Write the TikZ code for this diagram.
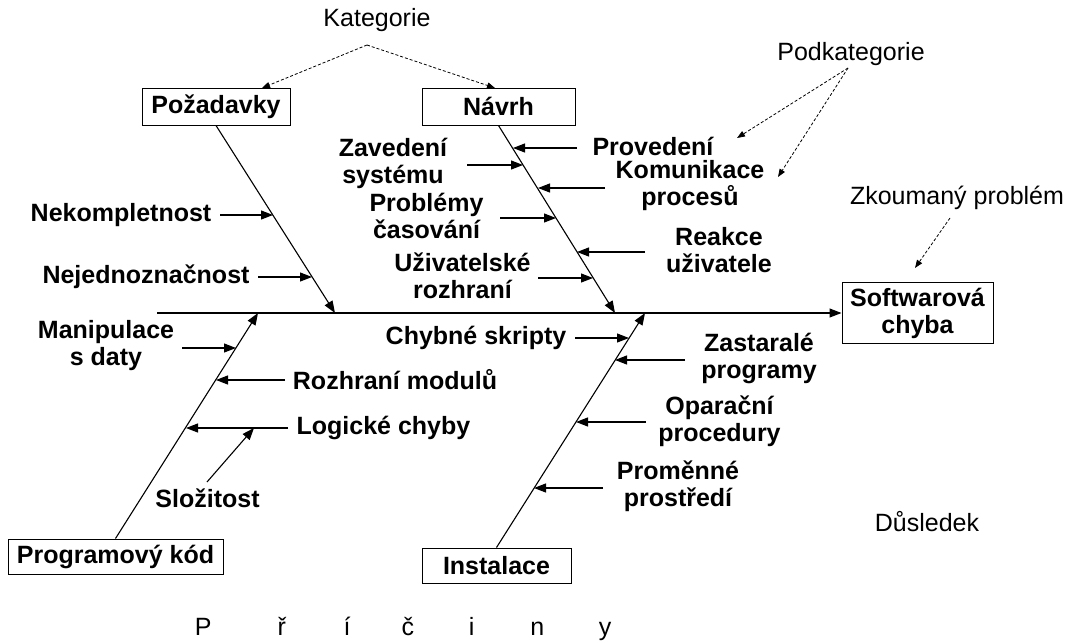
\documentclass[tikz,border=0pt]{standalone}
\usepackage{fontspec}
\setmainfont{Liberation Sans}
\usetikzlibrary{arrows.meta}
\newcommand{\labelsize}{\fontsize{25}{27}\selectfont}
\begin{document}
\begin{tikzpicture}[x=1pt,y=-1pt,
  cause/.style={font=\labelsize\bfseries, align=center, inner sep=0pt},
  note/.style={font=\labelsize, inner sep=0pt},
  catbox/.style={draw, line width=1pt, font=\labelsize\bfseries, align=center, inner sep=0pt},
  arr/.style={line width=1.1pt, -{Triangle[length=12pt,width=9pt]}},
  bone/.style={line width=1.1pt, -{Triangle[length=12pt,width=9pt]}},
  darr/.style={line width=0.8pt, dash pattern=on 3pt off 2pt, -{Triangle[length=8pt,width=6pt]}}]
\useasboundingbox (0,0) rectangle (1067,642);

% category boxes and the effect box
\node[catbox, minimum width=148pt, minimum height=37pt] (poz) at (216,106.5) {Požadavky};
\node[catbox, minimum width=153pt, minimum height=37pt] (nav) at (498.5,106.5) {Návrh};
\node[catbox, minimum width=215pt, minimum height=35pt] (kod) at (115.5,556.5) {Programový kód};
\node[catbox, minimum width=149pt, minimum height=35pt] (ins) at (496.5,565.5) {Instalace};
\node[catbox, minimum width=151pt, minimum height=61pt] (sw) at (917.5,313) {Softwarová\\chyba};

% spine
\coordinate (spine) at (157,313);
\draw[arr] (spine) -- (sw.west);

% main bones
\coordinate (pozT) at (335,313);
\coordinate (navT) at (615,313);
\coordinate (kodT) at (258,313);
\coordinate (insT) at (645,313);
\draw[bone] (poz.south) -- (pozT);
\draw[bone] (nav.south) -- (navT);
\draw[bone] (kod.north) -- (kodT);
\draw[bone] (ins.north) -- (insT);

% cause labels
\node[cause] (nek) at (121,215) {Nekompletnost};
\node[cause] (nej) at (146,277) {Nejednoznačnost};
\node[cause] (zav) at (393,163) {Zavedení\\systému};
\node[cause] (prob) at (426.5,216) {Problémy\\časování};
\node[cause] (uziv) at (462.5,276) {Uživatelské\\rozhraní};
\node[cause] (prov) at (653,146) {Provedení};
\node[cause] (kom) at (690,186) {Komunikace\\procesů};
\node[cause] (reak) at (719,250) {Reakce\\uživatele};
\node[cause] (manip) at (106,346) {Manipulace\\s daty};
\node[cause] (rozh) at (395,380) {Rozhraní modulů};
\node[cause] (log) at (383.5,428) {Logické chyby};
\node[cause] (slo) at (207.5,498) {Složitost};
\node[cause] (chyb) at (476,338) {Chybné skripty};
\node[cause] (zast) at (759,358) {Zastaralé\\programy};
\node[cause] (opar) at (719.5,421) {Oparační\\procedury};
\node[cause] (prom) at (678,486) {Proměnné\\prostředí};

% arrow tails beside the labels
\coordinate (nekS) at (220,215);
\coordinate (nejS) at (258,277);
\coordinate (zavS) at (467,165);
\coordinate (probS) at (500,218);
\coordinate (uzivS) at (538,278);
\coordinate (provS) at (577,148);
\coordinate (komS) at (605,188);
\coordinate (reakS) at (645,252);
\coordinate (manipS) at (182,348);
\coordinate (rozhS) at (285,380);
\coordinate (logS) at (288,428);
\coordinate (sloS) at (207,482);
\coordinate (chybS) at (575,338);
\coordinate (zastS) at (685,360);
\coordinate (oparS) at (646,422);
\coordinate (promS) at (603,488);

% arrow heads on the bones
\coordinate (nekE) at (273,215);
\coordinate (nejE) at (312,277);
\coordinate (zavE) at (523,165);
\coordinate (probE) at (556,218);
\coordinate (uzivE) at (593,278);
\coordinate (provE) at (513,148);
\coordinate (komE) at (538,188);
\coordinate (reakE) at (577,252);
\coordinate (manipE) at (236,348);
\coordinate (rozhE) at (216,380);
\coordinate (logE) at (186,428);
\coordinate (sloE) at (254,428);
\coordinate (chybE) at (629,338);
\coordinate (zastE) at (615,360);
\coordinate (oparE) at (576,422);
\coordinate (promE) at (534,488);

\foreach \c in {nek,nej,zav,prob,uziv,prov,kom,reak,manip,rozh,log,slo,chyb,zast,opar,prom}
  \draw[arr] (\c S) -- (\c E);

% annotations
\node[note] (kat) at (377,20) {Kategorie};
\node[note] (podk) at (851,54) {Podkategorie};
\node[note] (zkou) at (957,198) {Zkoumaný problém};
\node[note] (dus) at (927,522) {Důsledek};
\node[note, anchor=base west] (pric) at (160.5,635)
  {\makebox[85pt]{P}\makebox[72pt]{ř}\makebox[59pt]{í}\makebox[62.5pt]{č}\makebox[65pt]{i}\makebox[66.5pt]{n}\makebox[69pt]{y}};

\coordinate (katA) at (367,45);
\coordinate (katL) at (262,88);
\coordinate (katR) at (495,88);
\draw[darr] (katA) -- (katL);
\draw[darr] (katA) -- (katR);

\coordinate (podkA) at (848,68);
\coordinate (podkL) at (737,138);
\coordinate (podkR) at (778,177);
\draw[darr] (podkA) -- (podkL);
\draw[darr] (podkA) -- (podkR);

\coordinate (zkouA) at (950,218);
\coordinate (zkouT) at (915,268);
\draw[darr] (zkouA) -- (zkouT);
\end{tikzpicture}
\end{document}
